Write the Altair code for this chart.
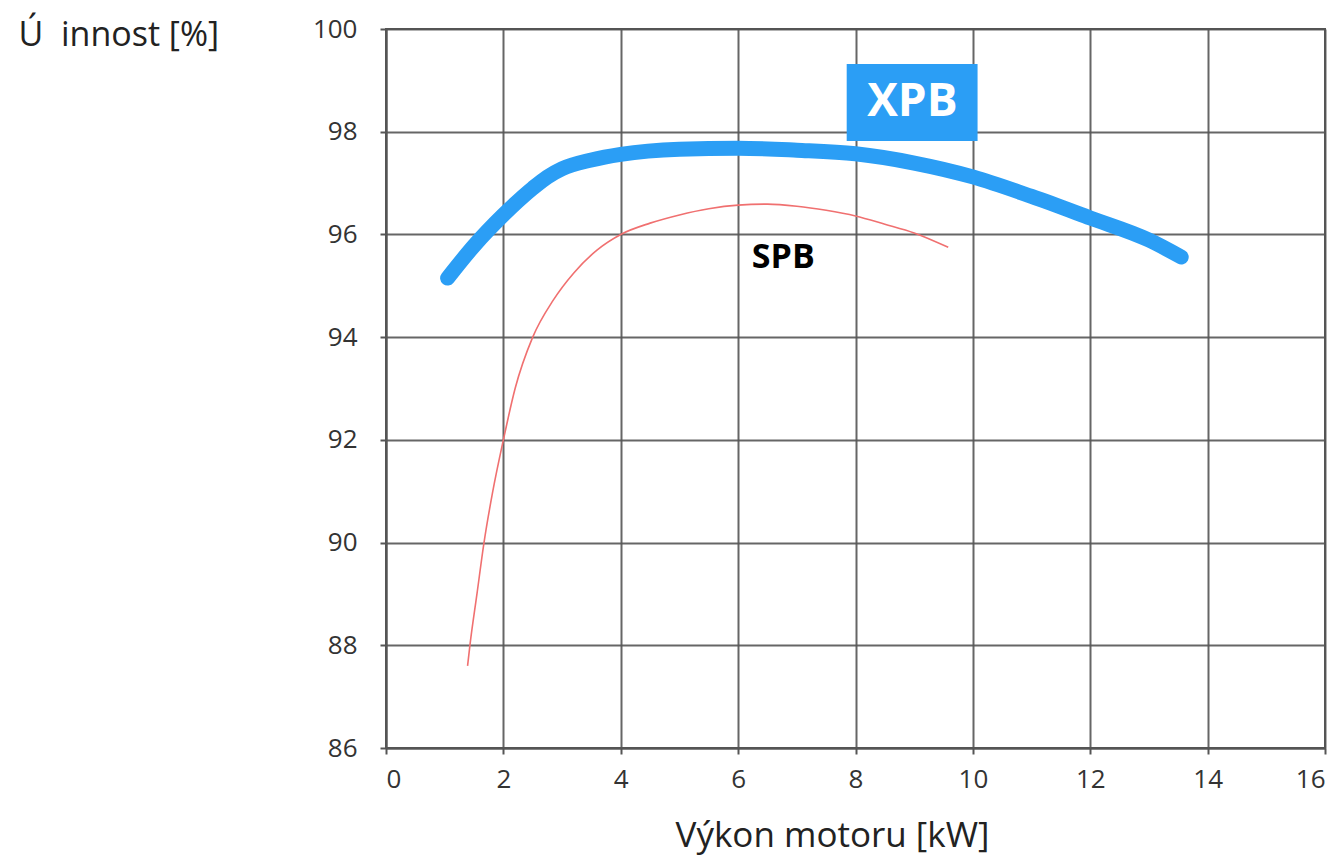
import altair as alt
import pandas as pd

# XPB efficiency curve (thick blue)
xpb_x = [1.05, 1.5, 2.0, 2.5, 2.75, 3.0, 3.5, 4.0, 5.0, 6.0, 7.0, 8.0, 9.0, 10.0, 11.0, 12.0, 13.0, 13.55]
xpb_y = [95.15, 95.78, 96.38, 96.9, 97.12, 97.28, 97.45, 97.56, 97.66, 97.68, 97.64, 97.57, 97.39, 97.12, 96.74, 96.32, 95.89, 95.56]

# SPB efficiency curve (thin red)
spb_x = [1.39, 1.43, 1.55, 1.67, 1.82, 2.0, 2.2, 2.5, 2.85, 3.2, 3.6, 4.0, 4.5, 5.0, 5.5, 6.0, 6.5, 7.0, 7.5, 8.0, 8.5, 9.0, 9.58]
spb_y = [87.6, 88.0, 89.0, 90.0, 91.0, 92.0, 93.0, 94.0, 94.72, 95.25, 95.7, 96.0, 96.22, 96.38, 96.5, 96.57, 96.59, 96.55, 96.47, 96.36, 96.2, 96.03, 95.75]

x_ticks = [0, 2, 4, 6, 8, 10, 12, 14, 16]
y_ticks = [86, 88, 90, 92, 94, 96, 98, 100]

# label positions (data units)
xpb_label = {"x": 8.97, "y": 98.57, "x1": 7.85, "x2": 10.08, "y1": 97.82, "y2": 99.32, "t": "XPB"}
spb_label = {"x": 6.77, "y": 95.54, "t": "SPB"}

BLUE = "#2b9ef5"
RED = "#f07070"
GRID = "#555555"
FONT = "Open Sans"

xs = alt.Scale(domain=[0, 16], nice=False, zero=False)
ys = alt.Scale(domain=[86, 100], nice=False, zero=False)

xaxis = alt.Axis(values=x_ticks, format="d", grid=True, title="Výkon motoru [kW]",
                 titleX=446, titleY=87, titleAlign="center", titleBaseline="middle",
                 titleFontSize=35, titleFontWeight="normal", titleFont=FONT, titleColor="#222",
                 labelFontSize=26, labelFont=FONT, labelColor="#333", labelPadding=12,
                 tickSize=6)
yaxis = alt.Axis(values=y_ticks, format="d", grid=True, title="Ú \u00a0innost [%]",
                 titleAngle=0, titleX=-368, titleY=6, titleAlign="left", titleBaseline="middle",
                 titleFontSize=34, titleFontWeight="normal", titleFont=FONT, titleColor="#222",
                 labelFontSize=26, labelFont=FONT, labelColor="#333", labelPadding=23,
                 tickSize=6)

df_xpb = pd.DataFrame({"x": xpb_x, "y": xpb_y})
df_spb = pd.DataFrame({"x": spb_x, "y": spb_y})

base_grid = alt.Chart(df_spb).mark_point(opacity=0).encode(
    x=alt.X("x:Q", scale=xs, axis=xaxis),
    y=alt.Y("y:Q", scale=ys, axis=yaxis),
)

spb_line = alt.Chart(df_spb).mark_line(color=RED, strokeWidth=1.6, interpolate="monotone").encode(
    x=alt.X("x:Q", scale=xs), y=alt.Y("y:Q", scale=ys)
)

xpb_line = alt.Chart(df_xpb).mark_line(color=BLUE, strokeWidth=15, strokeCap="round",
                                       strokeJoin="round", interpolate="monotone").encode(
    x=alt.X("x:Q", scale=xs), y=alt.Y("y:Q", scale=ys)
)

df_xl = pd.DataFrame([xpb_label])
xpb_box = alt.Chart(df_xl).mark_rect(color=BLUE).encode(
    x=alt.X("x1:Q", scale=xs), x2="x2:Q", y=alt.Y("y1:Q", scale=ys), y2="y2:Q"
)
xpb_text = alt.Chart(df_xl).mark_text(color="white", fontSize=46, fontWeight="bold", font=FONT,
                                      align="center", baseline="middle").encode(
    x=alt.X("x:Q", scale=xs), y=alt.Y("y:Q", scale=ys), text="t:N"
)

df_sl = pd.DataFrame([spb_label])
spb_text = alt.Chart(df_sl).mark_text(color="black", fontSize=34, fontWeight="bold", font=FONT,
                                      align="center", baseline="middle").encode(
    x=alt.X("x:Q", scale=xs), y=alt.Y("y:Q", scale=ys), text="t:N"
)

chart = alt.layer(base_grid, spb_line, xpb_line, xpb_box, xpb_text, spb_text).properties(
    width=939, height=719,
    autosize=alt.AutoSizeParams(type="none"),
    padding={"left": 378, "top": 21, "right": 6, "bottom": 110},
    background="white",
).configure_axis(
    gridColor=GRID, gridWidth=2, gridOpacity=0.9,
    domainColor=GRID, domainWidth=2,
    tickColor=GRID, tickWidth=2,
).configure_view(stroke=GRID, strokeWidth=2)

chart.save("out.html", embed_options={"renderer": "svg", "actions": False})
